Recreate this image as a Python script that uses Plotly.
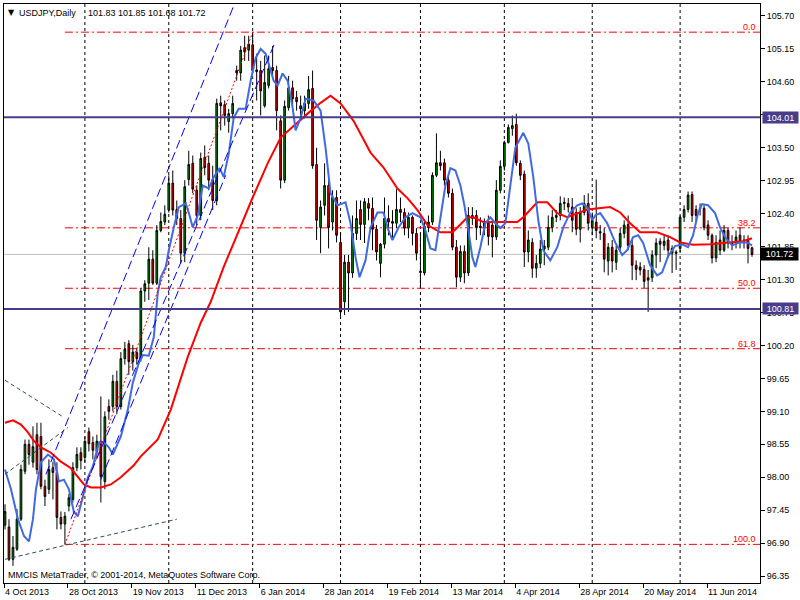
import plotly.graph_objects as go

# ---------------- data ----------------
symbol_header = "USDJPY,Daily"
header_prices = "101.83 101.85 101.68 101.72"
copyright_text = "MMCIS MetaTrader, © 2001-2014, MetaQuotes Software Corp."

opens = [97.20, 97.17, 96.63, 96.80, 97.30, 98.10, 98.55, 98.25, 98.71, 98.68,
         97.85, 97.80, 98.16, 98.08, 97.33, 97.22, 97.52, 97.63, 98.16, 98.41,
         98.33, 98.76, 98.58, 98.43, 98.60, 97.93, 99.18, 99.18, 99.60, 99.18,
         99.98, 100.23, 99.93, 100.08, 99.98, 101.11, 101.24, 101.64, 101.24, 102.12,
         102.26, 102.46, 102.91, 102.47, 102.32, 101.74, 102.97, 103.24, 102.79, 102.37,
         103.34, 103.24, 102.97, 102.62, 104.25, 104.22, 103.94, 104.07, 104.75, 104.75,
         105.17, 105.13, 105.22, 104.77, 104.79, 104.20, 104.54, 104.84, 104.79, 103.95,
         102.96, 104.17, 104.50, 104.34, 104.20, 104.12, 104.24, 104.49, 103.22, 102.17,
         102.54, 102.87, 102.26, 102.67, 101.92, 100.93, 101.59, 101.41, 102.07, 102.47,
         102.22, 102.57, 102.49, 102.14, 101.57, 101.89, 102.32, 102.27, 102.24, 102.47,
         102.42, 102.16, 102.34, 102.07, 101.44, 101.41, 102.17, 102.26, 103.04, 103.25,
         103.25, 102.96, 102.74, 101.84, 101.34, 101.77, 101.41, 102.37, 102.37, 102.19,
         102.17, 102.24, 102.21, 102.01, 102.79, 103.19, 103.59, 103.82, 103.89, 103.24,
         103.06, 101.76, 101.92, 101.49, 101.57, 101.81, 101.84, 102.17, 102.34, 102.37,
         102.57, 102.57, 102.51, 102.42, 102.14, 102.42, 102.57, 102.17, 102.26, 102.10,
         102.07, 101.61, 101.84, 101.59, 101.84, 102.07, 102.22, 101.87, 101.54, 101.51,
         101.47, 101.29, 101.33, 101.71, 101.94, 101.87, 101.96, 101.74, 101.76, 101.82,
         102.34, 102.47, 102.72, 102.47, 102.49, 102.49, 102.21, 102.04, 101.66, 101.96,
         101.79, 102.12, 101.92, 101.91, 102.04, 101.96, 101.96, 101.83]
highs = [97.55, 97.30, 97.02, 97.47, 98.21, 98.63, 98.63, 98.85, 98.91, 98.91,
         97.96, 98.30, 98.26, 98.25, 97.43, 97.42, 97.72, 98.25, 98.50, 98.50,
         98.68, 98.83, 98.68, 98.71, 99.35, 99.10, 99.30, 99.71, 99.78, 100.09,
         100.26, 100.29, 100.21, 100.16, 101.16, 101.29, 101.84, 101.79, 102.21, 102.42,
         102.54, 103.04, 103.12, 102.62, 102.46, 102.96, 103.45, 103.37, 102.87, 103.42,
         103.54, 103.37, 103.20, 104.32, 104.37, 104.29, 104.15, 104.37, 104.87, 105.20,
         105.37, 105.37, 105.43, 105.07, 104.95, 105.04, 105.04, 105.20, 104.87, 104.04,
         104.29, 104.70, 104.62, 104.45, 104.37, 104.37, 104.70, 104.79, 103.50, 102.62,
         103.24, 102.96, 102.79, 102.79, 102.07, 101.71, 101.71, 102.37, 102.62, 102.62,
         102.66, 102.66, 102.67, 102.21, 101.91, 102.67, 102.54, 102.46, 102.81, 102.67,
         102.49, 102.42, 102.37, 102.16, 102.07, 102.26, 102.37, 103.09, 103.74, 103.45,
         103.32, 103.04, 102.82, 101.96, 101.87, 101.87, 102.51, 102.51, 102.46, 102.34,
         102.32, 102.37, 102.29, 102.96, 103.29, 103.62, 103.89, 104.04, 104.07, 103.29,
         103.12, 102.12, 101.99, 101.71, 101.96, 101.96, 102.37, 102.46, 102.46, 102.69,
         102.67, 102.66, 102.66, 102.49, 102.51, 102.71, 102.74, 102.42, 102.97, 102.21,
         102.16, 101.91, 101.96, 101.87, 102.16, 102.29, 102.37, 101.96, 101.62, 101.59,
         101.54, 101.46, 101.79, 101.99, 101.99, 102.04, 102.04, 101.87, 101.79, 102.37,
         102.54, 102.77, 102.77, 102.54, 102.57, 102.54, 102.29, 102.07, 102.04, 102.12,
         102.21, 102.16, 102.04, 102.12, 102.17, 102.04, 102.04, 101.85]
lows = [97.13, 96.60, 96.52, 96.77, 97.27, 98.05, 98.21, 98.16, 98.05, 97.80,
        97.52, 97.72, 97.63, 97.13, 97.13, 96.88, 97.43, 97.58, 98.10, 98.13,
        98.25, 98.43, 98.30, 98.33, 97.58, 97.80, 98.96, 99.10, 99.05, 99.13,
        99.88, 99.71, 99.78, 99.88, 99.93, 100.93, 100.96, 101.21, 101.21, 102.09,
        102.21, 102.42, 102.37, 102.21, 101.57, 101.59, 102.87, 102.74, 102.21, 102.29,
        103.04, 102.79, 102.46, 102.54, 103.79, 103.87, 103.75, 103.99, 104.62, 104.62,
        104.95, 104.95, 104.75, 104.29, 104.04, 104.17, 104.49, 104.67, 103.79, 102.82,
        102.91, 104.12, 104.20, 104.12, 103.95, 103.99, 104.15, 103.15, 101.96, 101.74,
        102.37, 101.82, 102.12, 101.92, 100.68, 100.71, 100.76, 101.33, 101.96, 101.96,
        101.91, 102.29, 101.79, 101.62, 101.34, 101.82, 102.04, 101.96, 102.16, 102.26,
        102.04, 101.99, 101.87, 101.62, 101.17, 101.37, 102.09, 102.21, 103.01, 103.12,
        102.87, 102.67, 101.79, 101.17, 101.26, 101.24, 101.36, 102.21, 101.96, 102.04,
        102.04, 101.87, 101.67, 101.96, 102.74, 103.12, 103.57, 103.70, 103.20, 102.96,
        101.51, 101.59, 101.33, 101.33, 101.49, 101.54, 101.79, 102.09, 102.26, 102.29,
        102.46, 102.42, 102.09, 102.04, 101.92, 102.37, 102.12, 102.04, 101.99, 101.96,
        101.42, 101.37, 101.42, 101.46, 101.76, 101.99, 101.79, 101.29, 101.29, 101.37,
        101.16, 100.76, 101.26, 101.49, 101.59, 101.79, 101.66, 101.41, 101.46, 101.76,
        102.26, 102.42, 102.26, 102.26, 102.37, 102.12, 101.96, 101.57, 101.59, 101.71,
        101.76, 101.82, 101.79, 101.82, 101.82, 101.82, 101.57, 101.68]
closes = [97.43, 96.63, 96.83, 97.30, 98.13, 98.55, 98.38, 98.51, 98.13, 97.85,
          97.68, 98.13, 98.08, 97.33, 97.22, 97.35, 97.66, 98.16, 98.38, 98.28,
          98.60, 98.56, 98.45, 98.60, 98.01, 99.01, 99.10, 99.60, 99.18, 99.98,
          100.14, 99.93, 100.09, 99.98, 101.11, 101.23, 101.64, 101.24, 102.12, 102.27,
          102.39, 102.91, 102.46, 102.32, 101.74, 102.85, 103.22, 102.81, 102.37, 103.32,
          103.17, 102.96, 102.62, 104.24, 104.20, 104.04, 104.07, 104.24, 104.79, 105.13,
          105.10, 105.23, 104.79, 104.80, 104.45, 104.59, 104.82, 104.79, 104.12, 102.96,
          104.19, 104.50, 104.32, 104.27, 104.15, 104.24, 104.47, 103.20, 102.29, 102.51,
          102.87, 102.17, 102.67, 102.04, 100.76, 101.59, 101.41, 102.07, 102.32, 102.22,
          102.60, 102.49, 102.14, 101.76, 101.89, 102.32, 102.26, 102.24, 102.47, 102.42,
          102.16, 102.34, 102.07, 101.74, 101.42, 102.19, 102.26, 103.04, 103.25, 103.20,
          102.96, 102.74, 101.84, 101.34, 101.77, 101.41, 102.37, 102.32, 102.17, 102.17,
          102.24, 102.02, 102.01, 102.79, 103.19, 103.59, 103.84, 103.87, 103.25, 103.04,
          101.76, 101.96, 101.49, 101.57, 101.81, 101.86, 102.17, 102.34, 102.37, 102.57,
          102.59, 102.51, 102.29, 102.14, 102.42, 102.57, 102.24, 102.29, 102.12, 102.08,
          101.64, 101.84, 101.61, 101.79, 102.07, 102.21, 101.87, 101.54, 101.47, 101.46,
          101.27, 101.33, 101.71, 101.91, 101.89, 101.94, 101.79, 101.82, 101.74, 102.34,
          102.47, 102.71, 102.37, 102.37, 102.48, 102.17, 102.04, 101.66, 101.92, 101.79,
          102.12, 101.91, 101.89, 102.01, 101.92, 101.95, 101.82, 101.72]

date_labels = ["4 Oct 2013", "28 Oct 2013", "19 Nov 2013", "11 Dec 2013", "6 Jan 2014",
               "28 Jan 2014", "19 Feb 2014", "13 Mar 2014", "4 Apr 2014", "28 Apr 2014",
               "20 May 2014", "11 Jun 2014"]
date_label_bars = [0, 16, 32, 48, 64, 80, 96, 112, 128, 144, 160, 176]
grid_bars = [20, 41, 62, 84, 104, 125, 147, 169]
price_ticks = [105.70, 105.15, 104.60, 104.05, 103.50, 102.95, 102.40, 101.85, 101.30,
               100.75, 100.20, 99.65, 99.10, 98.55, 98.00, 97.45, 96.90, 96.35]

red_ma_bars = [0, 2, 4, 5.75, 7.3, 9, 11.5, 14, 16.5, 18.25, 19.75, 21.5, 24, 26.5, 29,
               32.25, 34, 38.25, 41.5, 45.75, 49, 51.5, 54.75, 62, 65.75, 69, 72.25,
               75.75, 79, 81.5, 84, 87.25, 91.5, 94.75, 98.25, 100.75, 103.25, 105.75,
               109, 112, 113.25, 115.75, 117.25, 119.75, 124.75, 128.25, 129.75, 133.25,
               135.75, 138.25, 140.75, 145.75, 151.5, 154, 156.5, 159, 163.25, 166.5,
               169, 172.25, 176.5, 180.75, 184.75, 187]
red_ma_vals = [98.91, 98.95, 98.88, 98.75, 98.60, 98.50, 98.41, 98.26, 98.15, 98.01,
               97.88, 97.83, 97.83, 97.88, 98.00, 98.20, 98.35, 98.63, 99.13, 100.01,
               100.58, 100.93, 101.51, 102.67, 103.24, 103.67, 103.87, 104.07, 104.25,
               104.37, 104.24, 103.95, 103.42, 103.17, 102.82, 102.66, 102.46, 102.21,
               102.09, 102.09, 102.17, 102.34, 102.34, 102.26, 102.26, 102.26, 102.34,
               102.59, 102.59, 102.41, 102.34, 102.47, 102.51, 102.42, 102.24, 102.09,
               102.09, 102.01, 101.92, 101.88, 101.89, 101.92, 101.94, 101.99]

blue_ma_bars = [0, 1.5, 3.25, 4.75, 6, 7, 7.75, 9, 10.75, 12.25, 13.5, 14.75, 16, 17.25,
                18.25, 19.5, 20.75, 22, 23.5, 24.75, 26, 27, 29, 30.75, 32, 33.5, 34.5,
                36, 37.25, 38.25, 39, 40.25, 41, 42.25, 43.5, 45.25, 46, 47, 48.25, 49.5,
                51, 52.25, 53.75, 54.75, 56, 57.25, 58.5, 60.25, 61.5, 62.75, 64, 65.25,
                66, 67.25, 68.25, 69.5, 70.75, 72, 72.75, 74, 75.25, 77.25, 79, 80.25,
                81.5, 83.25, 85.25, 86.5, 87.75, 88.75, 90.25, 91.5, 93.25, 94.75, 96, 97,
                98.5, 100.25, 102, 104, 105.25, 106.5, 107.75, 109, 110.25, 111.5, 112.75,
                114, 115, 116, 117, 117.75, 119, 120.25, 121.5, 122.75, 124, 125.25,
                126.5, 127.75, 129.75, 131, 132.25, 133.5, 134.75, 136.5, 138.25, 139.75,
                141.5, 143.25, 144.5, 145.75, 147, 147.75, 149, 150.75, 152.75, 154.5,
                155.75, 157.25, 158.5, 159.75, 161.5, 163.25, 164.5, 166, 167.75, 169.5,
                171, 172.25, 173.5, 174.5, 176, 177.75, 179, 180.25, 182, 184, 185.75, 187]
blue_ma_vals = [98.13, 97.80, 97.30, 97.02, 96.93, 97.30, 97.80, 98.25, 98.38, 98.30,
                97.93, 97.96, 97.80, 97.42, 97.35, 97.68, 98.00, 98.18, 98.58, 98.58,
                98.50, 98.38, 98.68, 99.13, 99.58, 99.91, 100.04, 100.03, 100.34, 101.08,
                101.34, 101.51, 101.79, 102.17, 102.51, 102.57, 102.42, 102.17, 102.37,
                102.87, 102.82, 103.01, 103.16, 103.01, 103.40, 104.00, 104.15, 104.15,
                104.62, 105.00, 105.15, 105.07, 104.90, 104.62, 104.54, 104.74, 104.62,
                104.17, 103.79, 104.00, 104.32, 104.29, 104.12, 103.50, 102.74, 102.54,
                102.59, 102.24, 101.67, 101.34, 101.62, 102.17, 102.42, 102.42, 102.12,
                101.96, 102.17, 102.34, 102.41, 102.34, 102.12, 101.82, 101.79, 102.37,
                102.87, 103.16, 103.12, 102.87, 102.54, 102.12, 101.67, 101.51, 101.84,
                102.24, 102.34, 102.24, 102.16, 102.24, 102.91, 103.50, 103.75, 103.57,
                103.01, 102.29, 101.79, 101.62, 101.84, 102.17, 102.42, 102.54, 102.57,
                102.51, 102.29, 102.37, 102.41, 102.24, 101.92, 101.71, 101.79, 102.01,
                102.04, 101.91, 101.54, 101.37, 101.42, 101.69, 101.86, 101.89, 101.84,
                102.04, 102.41, 102.56, 102.54, 102.41, 102.17, 102.01, 101.87, 101.92,
                101.92, 101.87]

support_resistance = [104.01, 100.81]
bid_price = 101.72

fib_low_bar, fib_low = 15, 96.88
fib_high_bar, fib_high = 62, 105.43
fib_levels = [0.0, 38.2, 50.0, 61.8, 100.0]

# drawn trend objects: (bar, price) anchor pairs
blue_channel = [((10.25, 98.05), (57.25, 105.87)),
                ((16.5, 97.30), (67.75, 105.28)),
                ((24.0, 97.96), (55.25, 103.04))]
gray_lines = [((0, 99.62), (14.5, 99.01)),
              ((0, 98.05), (15.75, 98.83)),
              ((0, 96.63), (43.0, 97.30))]

# ---------------- figure ----------------
FONT = "Liberation Sans, Arial, sans-serif"
n_bars = len(opens)
bars = list(range(n_bars))

fig = go.Figure()

fig.add_trace(go.Candlestick(
    x=bars, open=opens, high=highs, low=lows, close=closes,
    increasing=dict(fillcolor="#009000", line=dict(color="black", width=1)),
    decreasing=dict(fillcolor="#F00000", line=dict(color="black", width=1)),
    whiskerwidth=0, showlegend=False, hoverinfo="skip"))

fig.add_trace(go.Scatter(x=red_ma_bars, y=red_ma_vals, mode="lines",
                         line=dict(color="#FF0000", width=2), showlegend=False,
                         hoverinfo="skip"))
fig.add_trace(go.Scatter(x=blue_ma_bars, y=blue_ma_vals, mode="lines",
                         line=dict(color="#4169E1", width=2), showlegend=False,
                         hoverinfo="skip"))

shapes = []
# vertical grid
for g in grid_bars:
    shapes.append(dict(type="line", xref="x", yref="paper", x0=g, x1=g, y0=0, y1=1,
                       line=dict(color="black", width=1, dash="3px,3px"), layer="below"))
# bid line
shapes.append(dict(type="line", xref="paper", yref="y", x0=0, x1=1, y0=bid_price,
                   y1=bid_price, line=dict(color="#C0C0C0", width=1), layer="below"))
# fibonacci levels
fib_range = fib_high - fib_low
for lv in fib_levels:
    p = fib_high - fib_range * lv / 100.0
    shapes.append(dict(type="line", xref="x", yref="y", x0=fib_low_bar, x1=n_bars + 2,
                       y0=p, y1=p, line=dict(color="#FF0000", width=1,
                                             dash="8px,3px,2px,3px"), layer="below"))
shapes.append(dict(type="line", xref="x", yref="y", x0=fib_low_bar, y0=fib_low,
                   x1=fib_high_bar, y1=fib_high,
                   line=dict(color="#FF0000", width=1, dash="2px,2px")))
# blue channel
for (a, b) in blue_channel:
    shapes.append(dict(type="line", xref="x", yref="y", x0=a[0], y0=a[1], x1=b[0], y1=b[1],
                       line=dict(color="#0000FF", width=1, dash="9px,4px")))
for (a, b) in gray_lines:
    shapes.append(dict(type="line", xref="x", yref="y", x0=a[0], y0=a[1], x1=b[0], y1=b[1],
                       line=dict(color="#2F4F4F", width=1, dash="4px,3px")))
# support / resistance
for lvl in support_resistance:
    shapes.append(dict(type="line", xref="paper", yref="y", x0=0, x1=1, y0=lvl, y1=lvl,
                       line=dict(color="#483D8B", width=2)))

annotations = []
for lv in fib_levels:
    p = fib_high - fib_range * lv / 100.0
    annotations.append(dict(xref="paper", yref="y", x=1, y=p, xanchor="right",
                            yanchor="bottom", xshift=-2, yshift=-2, showarrow=False,
                            text=f"{lv:.1f}", font=dict(family=FONT, size=9, color="#FF0000")))
for lvl in support_resistance:
    annotations.append(dict(xref="paper", yref="y", x=1, y=lvl, xanchor="left",
                            yanchor="middle", xshift=2, showarrow=False, text=f"{lvl:.2f}",
                            width=35, height=11, bgcolor="#483D8B", borderpad=0,
                            font=dict(family=FONT, size=9, color="white")))
annotations.append(dict(xref="paper", yref="y", x=1, y=bid_price, xanchor="left",
                        yanchor="middle", xshift=0, showarrow=False, text=f"{bid_price:.2f}",
                        width=37, height=12, bgcolor="black", borderpad=0,
                        font=dict(family=FONT, size=9, color="white")))
annotations.append(dict(xref="paper", yref="paper", x=0, y=1, xanchor="left",
                        yanchor="top", xshift=2, yshift=-2, showarrow=False,
                        text="▼", font=dict(family="DejaVu Sans", size=8, color="black")))
annotations.append(dict(xref="paper", yref="paper", x=0, y=1, xanchor="left",
                        yanchor="top", xshift=13, yshift=-2, showarrow=False,
                        text=symbol_header, font=dict(family=FONT, size=9, color="black")))
annotations.append(dict(xref="paper", yref="paper", x=0, y=1, xanchor="left",
                        yanchor="top", xshift=82, yshift=-2, showarrow=False,
                        text=header_prices, font=dict(family=FONT, size=9, color="black")))
annotations.append(dict(xref="paper", yref="paper", x=0, y=0, xanchor="left",
                        yanchor="bottom", xshift=2, yshift=1, showarrow=False,
                        text=copyright_text, font=dict(family=FONT, size=9, color="black")))

fig.update_layout(
    width=800, height=600,
    margin=dict(l=3, r=40, t=3, b=16),
    paper_bgcolor="white", plot_bgcolor="white",
    font=dict(family=FONT, size=9, color="black"),
    shapes=shapes, annotations=annotations,
    boxgap=0.4,
    showlegend=False,
    xaxis=dict(range=[-0.25, n_bars + 1.0], rangeslider=dict(visible=False),
               showgrid=False, zeroline=False, showline=True, linecolor="black",
               linewidth=1, mirror=True, ticks="outside", ticklen=4, tickcolor="black",
               tickvals=[b - 0.25 for b in date_label_bars], ticktext=date_labels,
               ticklabelposition="outside right", tickfont=dict(family=FONT, size=9)),
    yaxis=dict(range=[96.235, 105.90], side="right", showgrid=False, zeroline=False,
               showline=True, linecolor="black", linewidth=1, mirror=True,
               ticks="outside", ticklen=4, tickcolor="black", tickvals=price_ticks,
               ticktext=[f"{t:.2f}" for t in price_ticks],
               tickfont=dict(family=FONT, size=9)),
)

fig.write_html("out.html", config={"displayModeBar": False, "staticPlot": True},
               post_script="document.body.style.margin='0';"
                           "document.body.style.overflow='hidden';")
